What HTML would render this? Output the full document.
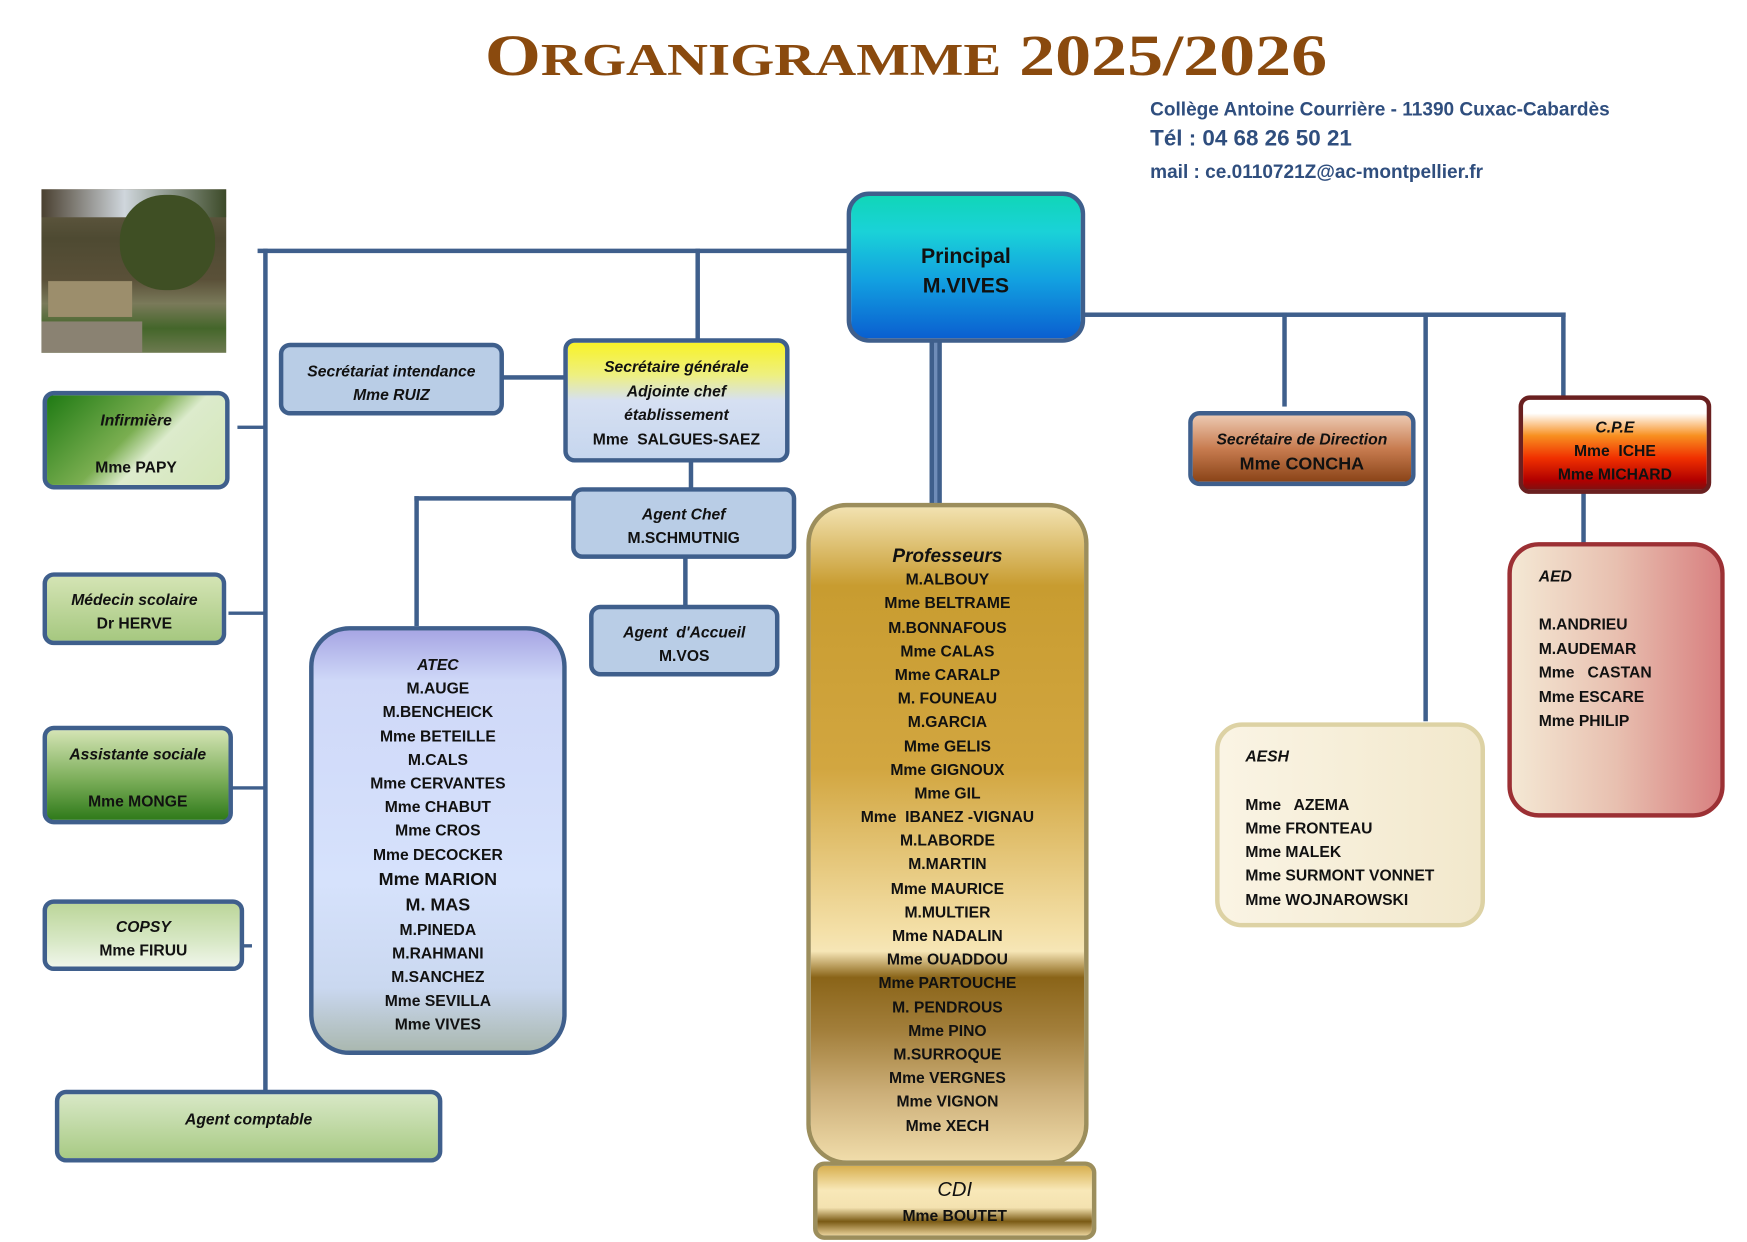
<!DOCTYPE html>
<html><head><meta charset="utf-8">
<style>
html,body{margin:0;padding:0;background:#fff;width:1747px;height:1242px;overflow:hidden}
#w{position:absolute;left:0;top:0;width:1560px;height:1109px;transform:scale(1.1199,1.12);transform-origin:0 0;font-family:"Liberation Sans",sans-serif;font-weight:bold}
.b{position:absolute;box-sizing:border-box;border:4px solid #3f5f8c;border-radius:10px;text-align:center;color:#111;font-size:14px}
.l{position:absolute;background:#3f5f8c}
i{font-style:italic}
.list div{height:21.2px;line-height:21.2px}
</style></head><body><div id="w">
<svg style="position:absolute;left:0;top:0" width="1560" height="90">
<text x="433" y="67" textLength="752" lengthAdjust="spacingAndGlyphs" font-family="Liberation Serif,serif" font-weight="bold" font-size="52" fill="#8a4a0e">O<tspan font-size="41">RGANIGRAMME</tspan> 2025/2026</text>
</svg>
<div style="position:absolute;left:1027px;top:88px;color:#2f4e7e;font-size:17px">Collège Antoine Courrière - 11390 Cuxac-Cabardès</div>
<div style="position:absolute;left:1027px;top:113px;color:#2f4e7e;font-size:20px">Tél : 04 68 26 50 21</div>
<div style="position:absolute;left:1027px;top:144px;color:#2f4e7e;font-size:17px">mail : ce.0110721Z@ac-montpellier.fr</div>

<div style="position:absolute;left:37px;top:169px;width:165px;height:146px;overflow:hidden;background:linear-gradient(180deg,#6a6048 0%,#4e4a32 30%,#5a5038 55%,#7a7a5a 70%,#44662a 85%,#6d7a50 100%)">
<div style="position:absolute;left:0;top:0;width:165px;height:25px;background:linear-gradient(90deg,#4a4030,#cfd6dc 45%,#3c4a28)"></div>
<div style="position:absolute;left:6px;top:82px;width:75px;height:32px;background:#9c8e6c"></div>
<div style="position:absolute;left:70px;top:5px;width:85px;height:85px;background:#3f4f24;border-radius:40px"></div>
<div style="position:absolute;left:0;top:118px;width:90px;height:28px;background:#8a8272"></div>
</div>

<!-- lines -->
<div class="l" style="left:230px;top:222px;width:528px;height:4px"></div>
<div class="l" style="left:235px;top:222px;width:4px;height:752px"></div>
<div class="l" style="left:621px;top:222px;width:4px;height:83px"></div>
<div class="l" style="left:449px;top:335px;width:56px;height:4px"></div>
<div class="l" style="left:615px;top:410px;width:4px;height:27px"></div>
<div class="l" style="left:370px;top:443px;width:142px;height:4px"></div>
<div class="l" style="left:370px;top:443px;width:4px;height:116px"></div>
<div class="l" style="left:610px;top:497px;width:4px;height:45px"></div>
<div class="l" style="left:212px;top:380px;width:25px;height:3px"></div>
<div class="l" style="left:204px;top:546px;width:33px;height:3px"></div>
<div class="l" style="left:206px;top:702px;width:31px;height:3px"></div>
<div class="l" style="left:216px;top:843px;width:9px;height:3px"></div>
<div class="l" style="left:830px;top:305px;width:11px;height:145px"></div>
<div style="position:absolute;left:834px;top:305px;width:3px;height:145px;background:#6f8cb8"></div>
<div class="l" style="left:966px;top:279px;width:432px;height:4px"></div>
<div class="l" style="left:1145px;top:279px;width:4px;height:84px"></div>
<div class="l" style="left:1271px;top:279px;width:4px;height:365px"></div>
<div class="l" style="left:1394px;top:279px;width:4px;height:76px"></div>
<div class="l" style="left:1412px;top:440px;width:4px;height:46px"></div>

<div class="b" style="left:756px;top:171px;width:213px;height:135px;border-radius:20px;background:linear-gradient(#10d6b8,#1ad2d8 25%,#129fe0 60%,#0a5fd0);font-size:19px;font-weight:normal;padding-top:42px;line-height:26px"><b>Principal<br>M.VIVES</b></div>

<div class="b" style="left:249px;top:306px;width:201px;height:65px;background:#b9cde6;padding-top:11px;line-height:21px"><i>Secrétariat intendance<br>Mme RUIZ</i></div>
<div class="b" style="left:503px;top:302px;width:202px;height:111px;background:linear-gradient(#f8f228,#eef080 28%,#d6e0f2 50%,#c6d6ee);padding-top:11px;line-height:21.5px"><i>Secrétaire générale<br>Adjointe chef<br>établissement</i><br>Mme&nbsp; SALGUES-SAEZ</div>
<div class="b" style="left:510px;top:435px;width:201px;height:64px;background:#b9cde6;padding-top:10px;line-height:21px"><i>Agent Chef</i><br>M.SCHMUTNIG</div>
<div class="b" style="left:526px;top:540px;width:170px;height:64px;background:#b9cde6;padding-top:10px;line-height:21px"><i>Agent&nbsp; d'Accueil</i><br>M.VOS</div>

<div class="b list" style="left:276px;top:559px;width:230px;height:383px;border-radius:36px;background:linear-gradient(#a7a6e4,#cfd8f8 12%,#d6e2fc 60%,#cad8f0 85%,#aab8b0);padding-top:20px;font-size:14px">
<div><i>ATEC</i></div><div>M.AUGE</div><div>M.BENCHEICK</div><div>Mme BETEILLE</div><div>M.CALS</div><div>Mme CERVANTES</div><div>Mme CHABUT</div><div>Mme CROS</div><div>Mme DECOCKER</div><div style="font-size:16px;height:23px;line-height:23px">Mme MARION</div><div style="font-size:16px;height:23px;line-height:23px">M. MAS</div><div>M.PINEDA</div><div>M.RAHMANI</div><div>M.SANCHEZ</div><div>Mme SEVILLA</div><div>Mme VIVES</div></div>

<div class="b" style="left:38px;top:349px;width:167px;height:88px;background:linear-gradient(135deg,#1f7a14,#7aae50 45%,#dcebcc 60%,#d4e6b8);padding-top:12px;line-height:21px"><i>Infirmière</i><br><br>Mme PAPY</div>
<div class="b" style="left:38px;top:511px;width:164px;height:65px;background:linear-gradient(#d4e4b4,#a6c880);padding-top:10px;line-height:21px"><i>Médecin scolaire</i><br>Dr HERVE</div>
<div class="b" style="left:38px;top:648px;width:170px;height:88px;background:linear-gradient(#d4e4b4,#7cae5a 55%,#2f7a1a);padding-top:11px;line-height:21px"><i>Assistante sociale</i><br><br>Mme MONGE</div>
<div class="b" style="left:38px;top:803px;width:180px;height:64px;background:linear-gradient(#bcd69a,#d8e8c6 60%,#f0f6ea);padding-top:10px;line-height:21px"><i>COPSY</i><br>Mme FIRUU</div>
<div class="b" style="left:49px;top:973px;width:346px;height:65px;background:linear-gradient(#d8e8c6,#a8ca84);padding-top:12px;line-height:20px"><i>Agent comptable</i></div>

<div class="b list" style="left:720px;top:449px;width:252px;height:591px;border-radius:36px;border-color:#9c8e5c;background:linear-gradient(#f2e2b0,#c89c30 12%,#d2a640 40%,#f4e0a8 65%,#f6e6b6 68%,#8a6418 72%,#a27e3a 80%,#cdb07a 90%,#f0dcaa);padding-top:33px">
<div style="font-size:17px;font-weight:bold"><i>Professeurs</i></div><div>M.ALBOUY</div><div>Mme BELTRAME</div><div>M.BONNAFOUS</div><div>Mme CALAS</div><div>Mme CARALP</div><div>M. FOUNEAU</div><div>M.GARCIA</div><div>Mme GELIS</div><div>Mme GIGNOUX</div><div>Mme GIL</div><div>Mme&nbsp; IBANEZ -VIGNAU</div><div>M.LABORDE</div><div>M.MARTIN</div><div>Mme MAURICE</div><div>M.MULTIER</div><div>Mme NADALIN</div><div>Mme OUADDOU</div><div>Mme PARTOUCHE</div><div>M. PENDROUS</div><div>Mme PINO</div><div>M.SURROQUE</div><div>Mme VERGNES</div><div>Mme VIGNON</div><div>Mme XECH</div></div>
<div class="b" style="left:726px;top:1037px;width:253px;height:70px;border-color:#9c8e5c;background:linear-gradient(#d8b050,#f8e8b8 35%,#f4e2b0 60%,#7a5a14 80%,#e8d098);padding-top:10px;line-height:22px"><i style="font-size:18px;font-weight:normal">CDI</i><br>Mme BOUTET</div>

<div class="b" style="left:1061px;top:367px;width:203px;height:67px;background:linear-gradient(#ecc8b0,#c87c50 50%,#8a4418);padding-top:10px;line-height:22px"><i>Secrétaire de Direction</i><br><span style="font-size:16px">Mme CONCHA</span></div>
<div class="b" style="left:1356px;top:353px;width:172px;height:88px;border-color:#6a2020;background:linear-gradient(#fff,#fff 15%,#f89020 40%,#f03000 65%,#b00000 90%,#801010);padding-top:14px;line-height:21px"><i>C.P.E</i><br>Mme&nbsp; ICHE<br>Mme MICHARD</div>
<div class="b" style="left:1346px;top:484px;width:194px;height:246px;border-radius:28px;border-color:#9c3034;background:linear-gradient(90deg,#f4e8d4,#e8c0b0 50%,#d88080);text-align:left;padding:16px 0 0 24px;line-height:21.5px"><i>AED</i><br><br>M.ANDRIEU<br>M.AUDEMAR<br>Mme&nbsp;&nbsp; CASTAN<br>Mme ESCARE<br>Mme PHILIP</div>
<div class="b" style="left:1085px;top:645px;width:241px;height:183px;border-radius:24px;border-color:#ddd2a4;background:linear-gradient(90deg,#faf4e4,#f2e8cc);text-align:left;padding:16px 0 0 23px;line-height:21.3px"><i>AESH</i><br><br>Mme&nbsp;&nbsp; AZEMA<br>Mme FRONTEAU<br>Mme MALEK<br>Mme SURMONT VONNET<br>Mme WOJNAROWSKI</div>
</div></body></html>
